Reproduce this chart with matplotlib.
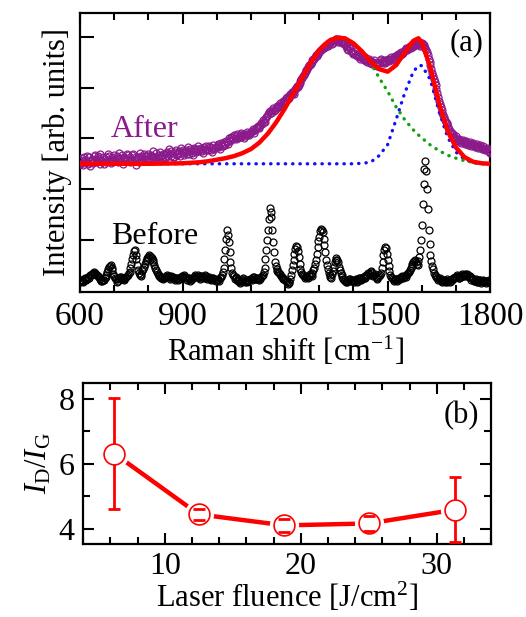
import numpy as np
import matplotlib
matplotlib.use('Agg')
import matplotlib.pyplot as plt
from matplotlib.ticker import MultipleLocator

plt.rcParams['font.family'] = ['Liberation Serif', 'DejaVu Serif']
plt.rcParams['mathtext.fontset'] = 'custom'
plt.rcParams['mathtext.rm'] = 'Liberation Serif'
plt.rcParams['mathtext.it'] = 'Liberation Serif:italic'

# ---- panel (a): Raman spectra, 5 cm-1 grid from 600 to 1800 ----
raman_x = np.arange(600, 1801, 5)

after_y = [
    2.50, 2.62, 2.47, 2.58, 2.66, 2.52, 2.45, 2.60, 2.57, 2.68,
    2.53, 2.61, 2.70, 2.55, 2.49, 2.63, 2.58, 2.66, 2.52, 2.60,
    2.67, 2.55, 2.62, 2.71, 2.58, 2.50, 2.64, 2.59, 2.68, 2.54,
    2.60, 2.69, 2.57, 2.48, 2.63, 2.72, 2.61, 2.55, 2.66, 2.58,
    2.70, 2.59, 2.66, 2.75, 2.62, 2.57, 2.68, 2.73, 2.60, 2.67,
    2.64, 2.74, 2.79, 2.66, 2.71, 2.63, 2.77, 2.69, 2.75, 2.81,
    2.72, 2.67, 2.78, 2.83, 2.70, 2.76, 2.68, 2.80, 2.74, 2.85,
    2.75, 2.82, 2.71, 2.79, 2.86, 2.77, 2.83, 2.74, 2.88, 2.81,
    2.84, 2.90, 2.80, 2.88, 2.94, 2.87, 2.93, 3.00, 2.95, 3.03,
    3.06, 2.98, 3.08, 3.03, 3.11, 3.05, 3.00, 3.09, 3.13, 3.06,
    3.12, 3.18, 3.10, 3.20, 3.25, 3.22, 3.30, 3.36, 3.33, 3.42,
    3.48, 3.55, 3.50, 3.60, 3.57, 3.64, 3.62, 3.70, 3.66, 3.74,
    3.76, 3.82, 3.79, 3.87, 3.92, 3.88, 3.97, 4.03, 4.06, 4.14,
    4.20, 4.26, 4.33, 4.38, 4.45, 4.48, 4.55, 4.58, 4.64, 4.66,
    4.70, 4.74, 4.78, 4.80, 4.85, 4.83, 4.89, 4.92, 4.88, 4.95,
    4.97, 4.91, 4.94, 4.89, 4.93, 4.84, 4.80, 4.75, 4.78, 4.70,
    4.66, 4.72, 4.62, 4.65, 4.58, 4.63, 4.55, 4.60, 4.52, 4.57,
    4.53, 4.47, 4.55, 4.50, 4.44, 4.52, 4.58, 4.49, 4.55, 4.51,
    4.57, 4.53, 4.60, 4.56, 4.63, 4.60, 4.67, 4.64, 4.71, 4.68,
    4.74, 4.79, 4.76, 4.83, 4.80, 4.86, 4.84, 4.90, 4.86, 4.82,
    4.88, 4.84, 4.78, 4.70, 4.58, 4.45, 4.30, 4.18, 4.05, 3.90,
    3.75, 3.62, 3.50, 3.42, 3.33, 3.28, 3.18, 3.12, 3.08, 3.02,
    3.04, 2.95, 2.99, 2.92, 2.97, 2.90, 2.95, 2.88, 2.93, 2.86,
    2.91, 2.84, 2.89, 2.82, 2.87, 2.80, 2.85, 2.77, 2.82, 2.74,
    2.72,
]

# second, offset pass of the "After" scan (points between the grid above)
after_mid_y = [
    2.58, 2.51, 2.63, 2.55, 2.49, 2.64, 2.56, 2.52, 2.65, 2.59,
    2.66, 2.50, 2.57, 2.64, 2.59, 2.53, 2.69, 2.57, 2.64, 2.55,
    2.58, 2.66, 2.53, 2.61, 2.67, 2.62, 2.55, 2.70, 2.58, 2.63,
    2.67, 2.56, 2.64, 2.60, 2.54, 2.66, 2.58, 2.69, 2.61, 2.65,
    2.62, 2.68, 2.57, 2.64, 2.71, 2.63, 2.60, 2.66, 2.70, 2.61,
    2.71, 2.65, 2.70, 2.76, 2.64, 2.73, 2.68, 2.72, 2.65, 2.74,
    2.78, 2.73, 2.70, 2.76, 2.79, 2.71, 2.82, 2.75, 2.79, 2.77,
    2.80, 2.76, 2.84, 2.78, 2.80, 2.85, 2.78, 2.82, 2.79, 2.84,
    2.87, 2.83, 2.92, 2.85, 2.89, 2.95, 2.90, 2.97, 3.02, 2.99,
    3.01, 3.04, 3.01, 3.07, 3.02, 3.08, 3.04, 3.06, 3.08, 3.11,
    3.15, 3.14, 3.17, 3.22, 3.21, 3.27, 3.28, 3.32, 3.38, 3.45,
    3.52, 3.51, 3.56, 3.54, 3.61, 3.60, 3.67, 3.64, 3.71, 3.72,
    3.80, 3.78, 3.84, 3.85, 3.90, 3.94, 3.99, 4.01, 4.10, 4.17,
    4.23, 4.30, 4.35, 4.42, 4.46, 4.52, 4.57, 4.61, 4.63, 4.69,
    4.72, 4.76, 4.79, 4.83, 4.82, 4.87, 4.90, 4.87, 4.93, 4.96,
    4.93, 4.96, 4.90, 4.92, 4.88, 4.82, 4.77, 4.80, 4.73, 4.68,
    4.69, 4.64, 4.67, 4.60, 4.61, 4.57, 4.58, 4.54, 4.56, 4.50,
    4.50, 4.52, 4.48, 4.47, 4.49, 4.55, 4.52, 4.53, 4.50, 4.55,
    4.55, 4.58, 4.57, 4.61, 4.58, 4.65, 4.62, 4.69, 4.66, 4.73,
    4.77, 4.75, 4.81, 4.78, 4.84, 4.82, 4.88, 4.87, 4.84, 4.89,
    4.86, 4.81, 4.74, 4.65, 4.52, 4.38, 4.24, 4.12, 3.97, 3.82,
    3.68, 3.56, 3.46, 3.37, 3.31, 3.22, 3.15, 3.10, 3.05, 3.01,
    2.98, 2.97, 2.94, 2.95, 2.93, 2.92, 2.91, 2.90, 2.89, 2.88,
    2.87, 2.86, 2.85, 2.84, 2.83, 2.82, 2.80, 2.79, 2.77, 2.75,
]

before_y = [
    0.17, 0.21, 0.19, 0.24, 0.22, 0.27, 0.30, 0.33, 0.36, 0.35,
    0.31, 0.26, 0.22, 0.18, 0.21, 0.27, 0.36, 0.47, 0.50, 0.40,
    0.29, 0.22, 0.19, 0.24, 0.27, 0.25, 0.22, 0.26, 0.31, 0.37,
    0.52, 0.70, 0.80, 0.62, 0.40, 0.30, 0.33, 0.42, 0.52, 0.60,
    0.66, 0.68, 0.64, 0.56, 0.45, 0.37, 0.31, 0.27, 0.25, 0.24,
    0.27, 0.30, 0.28, 0.25, 0.27, 0.24, 0.22, 0.25, 0.23, 0.26,
    0.28, 0.30, 0.27, 0.24, 0.22, 0.21, 0.24, 0.27, 0.29, 0.30,
    0.28, 0.25, 0.27, 0.30, 0.28, 0.25, 0.23, 0.22, 0.24, 0.23,
    0.21, 0.20, 0.24, 0.30, 0.45, 0.80, 1.20, 0.95, 0.55, 0.35,
    0.28, 0.24, 0.21, 0.18, 0.16, 0.20, 0.22, 0.19, 0.17, 0.20,
    0.22, 0.24, 0.26, 0.23, 0.22, 0.25, 0.27, 0.30, 0.45, 0.80,
    1.20, 1.62, 1.45, 0.95, 0.55, 0.42, 0.36, 0.32, 0.27, 0.25,
    0.20, 0.16, 0.14, 0.22, 0.40, 0.60, 0.82, 0.86, 0.65, 0.42,
    0.32, 0.28, 0.26, 0.27, 0.29, 0.31, 0.35, 0.45, 0.60, 0.85,
    1.05, 1.22, 1.15, 0.90, 0.60, 0.42, 0.30, 0.25, 0.38, 0.55,
    0.64, 0.55, 0.40, 0.30, 0.22, 0.19, 0.17, 0.20, 0.22, 0.19,
    0.18, 0.20, 0.17, 0.21, 0.24, 0.22, 0.25, 0.28, 0.31, 0.33,
    0.36, 0.34, 0.30, 0.27, 0.25, 0.28, 0.35, 0.55, 0.80, 0.84,
    0.60, 0.38, 0.27, 0.22, 0.20, 0.22, 0.21, 0.24, 0.26, 0.25,
    0.28, 0.30, 0.34, 0.40, 0.48, 0.55, 0.60, 0.52, 0.58, 0.80,
    1.30, 2.10, 2.55, 2.00, 1.20, 0.70, 0.48, 0.35, 0.28, 0.25,
    0.22, 0.20, 0.18, 0.21, 0.19, 0.17, 0.20, 0.18, 0.22, 0.24,
    0.26, 0.28, 0.25, 0.27, 0.30, 0.32, 0.29, 0.31, 0.28, 0.24,
    0.22, 0.19, 0.21, 0.17, 0.20, 0.18, 0.16, 0.19, 0.17, 0.20,
    0.18,
]

# second, offset pass of the "Before" scan (between grid points)
before_mid_y = [
    0.20, 0.16, 0.23, 0.20, 0.26, 0.24, 0.31, 0.35, 0.33, 0.30,
    0.28, 0.23, 0.19, 0.20, 0.24, 0.31, 0.42, 0.49, 0.45, 0.33,
    0.24, 0.17, 0.22, 0.26, 0.23, 0.20, 0.24, 0.28, 0.34, 0.44,
    0.62, 0.77, 0.70, 0.50, 0.34, 0.29, 0.38, 0.47, 0.57, 0.63,
    0.69, 0.66, 0.60, 0.50, 0.41, 0.33, 0.28, 0.24, 0.22, 0.26,
    0.29, 0.26, 0.23, 0.29, 0.26, 0.20, 0.24, 0.21, 0.25, 0.28,
    0.26, 0.25, 0.21, 0.25, 0.19, 0.23, 0.26, 0.31, 0.27, 0.26,
    0.23, 0.29, 0.25, 0.26, 0.22, 0.27, 0.20, 0.25, 0.21, 0.19,
    0.23, 0.18, 0.27, 0.36, 0.62, 1.02, 1.10, 0.75, 0.44, 0.31,
    0.22, 0.26, 0.19, 0.14, 0.19, 0.24, 0.17, 0.21, 0.18, 0.23,
    0.20, 0.27, 0.22, 0.25, 0.20, 0.23, 0.29, 0.36, 0.62, 1.00,
    1.40, 1.55, 1.20, 0.75, 0.48, 0.39, 0.34, 0.29, 0.23, 0.22,
    0.18, 0.12, 0.17, 0.30, 0.50, 0.72, 0.87, 0.78, 0.52, 0.36,
    0.30, 0.24, 0.29, 0.25, 0.32, 0.28, 0.40, 0.52, 0.72, 0.98,
    1.18, 1.20, 1.02, 0.75, 0.50, 0.35, 0.27, 0.32, 0.46, 0.60,
    0.60, 0.47, 0.35, 0.26, 0.20, 0.16, 0.19, 0.23, 0.18, 0.21,
    0.16, 0.22, 0.19, 0.24, 0.20, 0.27, 0.24, 0.30, 0.35, 0.31,
    0.38, 0.29, 0.32, 0.23, 0.27, 0.31, 0.45, 0.70, 0.86, 0.72,
    0.48, 0.31, 0.24, 0.19, 0.23, 0.19, 0.25, 0.22, 0.28, 0.27,
    0.26, 0.33, 0.37, 0.45, 0.52, 0.58, 0.55, 0.50, 0.65, 1.00,
    1.70, 2.40, 2.35, 1.60, 0.92, 0.58, 0.42, 0.31, 0.26, 0.21,
    0.24, 0.17, 0.20, 0.16, 0.22, 0.19, 0.16, 0.21, 0.25, 0.27,
    0.30, 0.24, 0.29, 0.33, 0.28, 0.30, 0.33, 0.26, 0.21, 0.24,
    0.18, 0.22, 0.16, 0.21, 0.15, 0.20, 0.18, 0.15, 0.19, 0.17,
]

# fitted curves
fit_x = [600, 700, 800, 900, 925, 950, 975, 1000, 1025, 1050, 1075, 1100,
         1125, 1150, 1175, 1200, 1225, 1250, 1275, 1300, 1325, 1350, 1375,
         1400, 1425, 1450, 1475, 1500, 1525, 1550, 1575, 1590, 1600, 1625,
         1650, 1675, 1700, 1725, 1750, 1775, 1800]
fit_total = [2.50, 2.50, 2.50, 2.51, 2.52, 2.53, 2.55, 2.58, 2.61, 2.65,
             2.71, 2.79, 2.92, 3.10, 3.33, 3.60, 3.90, 4.20, 4.50, 4.75,
             4.91, 4.99, 4.98, 4.88, 4.72, 4.52, 4.37, 4.32, 4.45, 4.70,
             4.93, 4.98, 4.90, 4.40, 3.70, 3.15, 2.82, 2.63, 2.54, 2.51,
             2.50]
fit_d = [2.50, 2.50, 2.50, 2.51, 2.52, 2.53, 2.55, 2.58, 2.61, 2.65,
         2.71, 2.79, 2.92, 3.10, 3.33, 3.60, 3.90, 4.20, 4.50, 4.75,
         4.91, 4.99, 4.98, 4.88, 4.72, 4.50, 4.20, 3.93, 3.62, 3.37,
         3.17, 3.07, 3.01, 2.87, 2.76, 2.67, 2.61, 2.56, 2.53, 2.51,
         2.50]
fit_g = [2.50, 2.50, 2.50, 2.50, 2.50, 2.50, 2.50, 2.50, 2.50, 2.50,
         2.50, 2.50, 2.50, 2.50, 2.50, 2.50, 2.50, 2.50, 2.50, 2.50,
         2.50, 2.50, 2.50, 2.50, 2.51, 2.53, 2.66, 2.88, 3.38, 3.90,
         4.32, 4.44, 4.44, 4.16, 3.54, 3.03, 2.73, 2.59, 2.52, 2.50,
         2.50]

# ---- panel (b): I_D/I_G vs laser fluence ----
fluence = [6.3, 12.5, 18.8, 25.0, 31.3]
ratio = [6.31, 4.44, 4.10, 4.16, 4.58]
ratio_err = [1.70, 0.18, 0.21, 0.23, 1.00]

purple = '#8b1a8b'
red = '#ff0000'

fig = plt.figure(figsize=(5.26, 6.17), dpi=100)
ax1 = fig.add_axes([0.152, 0.527, 0.780, 0.452])
ax2 = fig.add_axes([0.158, 0.119, 0.776, 0.260])

raman_mid_x = raman_x[:-1] + 2.5
all_x = np.concatenate([raman_x, raman_mid_x])
ax1.plot(all_x, np.concatenate([before_y, before_mid_y]),
         'o', mfc='none', mec='black', ms=5, mew=0.9, zorder=2)
ax1.plot(all_x, np.concatenate([after_y, after_mid_y]),
         'o', mfc='none', mec=purple, ms=5, mew=0.9, zorder=3)
ax1.plot(fit_x, fit_g, color='#1010ff', lw=2.4, ls=(0, (0.1, 2.1)),
         dash_capstyle='round', zorder=4)
ax1.plot(fit_x, fit_d, color='#10a010', lw=2.4, ls=(0, (0.1, 2.1)),
         dash_capstyle='round', zorder=4)
ax1.plot(fit_x, fit_total, color=red, lw=3.2, zorder=5)

ax1.text(690, 3.17, 'After', color=purple, fontsize=23, va='center')
ax1.text(690, 1.07, 'Before', color='black', fontsize=23, va='center')
ax1.text(1780, 4.89, '(a)', ha='right', va='center', fontsize=22)

ax1.set_xlim(600, 1800)
ax1.set_ylim(-0.03, 5.48)
ax1.xaxis.set_major_locator(MultipleLocator(300))
ax1.xaxis.set_minor_locator(MultipleLocator(100))
ax1.set_yticks([1, 2, 3, 4, 5])
ax1.tick_params(axis='both', which='both', direction='in', top=True,
                right=False, labelleft=False, labelsize=24, width=1.5)
ax1.tick_params(axis='x', which='major', length=8, pad=7)
ax1.tick_params(axis='x', which='minor', length=5)
ax1.tick_params(axis='y', which='major', length=10)
ax1.set_xlabel('Raman shift [cm$^{-1}$]', fontsize=22, labelpad=2)
ax1.set_ylabel('Intensity [arb. units]', fontsize=22, labelpad=6)

# line with gaps round the circles
ax2.plot(fluence, ratio, color=red, lw=3.2, zorder=1)
ax2.plot(fluence, ratio, 'o', ms=21, mfc='white', mec='none', zorder=2)
ax2.errorbar(fluence, ratio, yerr=ratio_err, fmt='none', ecolor=red,
             elinewidth=2, capsize=0, zorder=3)
ax2.plot(fluence, ratio, 'o', ms=15, mfc='white', mec=red, mew=1.2,
         zorder=4)
caps_hi = [r + e for r, e in zip(ratio, ratio_err)]
caps_lo = [r - e for r, e in zip(ratio, ratio_err)]
ax2.plot(fluence, caps_hi, '_', color=red, ms=8, mew=2, zorder=5)
ax2.plot(fluence, caps_lo, '_', color=red, ms=8, mew=2, zorder=5)

ax2.text(33.1, 7.49, '(b)', ha='right', va='center', fontsize=22)

ax2.set_xlim(4, 34)
ax2.set_ylim(3.54, 8.48)
ax2.xaxis.set_major_locator(MultipleLocator(10))
ax2.xaxis.set_minor_locator(MultipleLocator(2))
ax2.yaxis.set_major_locator(MultipleLocator(2))
ax2.yaxis.set_minor_locator(MultipleLocator(1))
ax2.tick_params(axis='both', which='both', direction='in', top=True,
                right=True, labelsize=23, width=1.5)
ax2.tick_params(axis='both', which='major', length=8, pad=6)
ax2.tick_params(axis='both', which='minor', length=5)
ax2.set_xlabel('Laser fluence [J/cm$^2$]', fontsize=22, labelpad=0)
ax2.set_ylabel(r'$I_{\rm D}/I_{\rm G}$', fontsize=22, labelpad=4)

for ax in (ax1, ax2):
    for sp in ax.spines.values():
        sp.set_linewidth(1.6)

fig.savefig('out.png', dpi=100)
